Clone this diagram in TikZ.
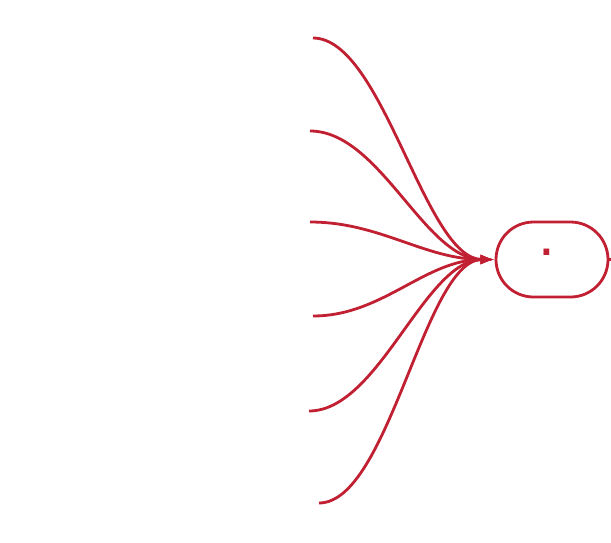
\documentclass[tikz,border=0pt]{standalone}
\usepackage{fontspec}
\setmainfont{Liberation Sans}
\usetikzlibrary{arrows.meta,shapes.misc}
\definecolor{linkred}{RGB}{193,32,50}

\tikzset{
  link/.style={draw=linkred,line width=1.4pt,-{Latex[length=7pt,width=5pt]}},
  target/.style={rounded rectangle,draw=linkred,line width=1.4pt,
    minimum width=56pt,minimum height=37.5pt,inner sep=0pt}
}

\begin{document}
\begin{tikzpicture}[x=0.5pt,y=-0.5pt]
  \useasboundingbox (0,0) rectangle (611,542);
  % sources
  \coordinate (s1) at (313,38);
  \coordinate (s2) at (310,131);
  \coordinate (s3) at (310,222);
  \coordinate (s4) at (313,316);
  \coordinate (s5) at (309,411);
  \coordinate (s6) at (319,503);
  \node[target] (dn) at (552,259.5) {};
  \node[inner sep=0pt,text=linkred,font=\fontsize{30}{30}\selectfont]
    (dot) at (547,252.5) {.};
  \coordinate (out) at (612,259.5);
  \foreach \i in {1,...,6}
    \draw[link] (s\i) .. controls +(70,0) and +(-70,0) .. (dn.west);
  \draw[draw=linkred,line width=1.4pt] (dn.east) -- (out);
\end{tikzpicture}
\end{document}
